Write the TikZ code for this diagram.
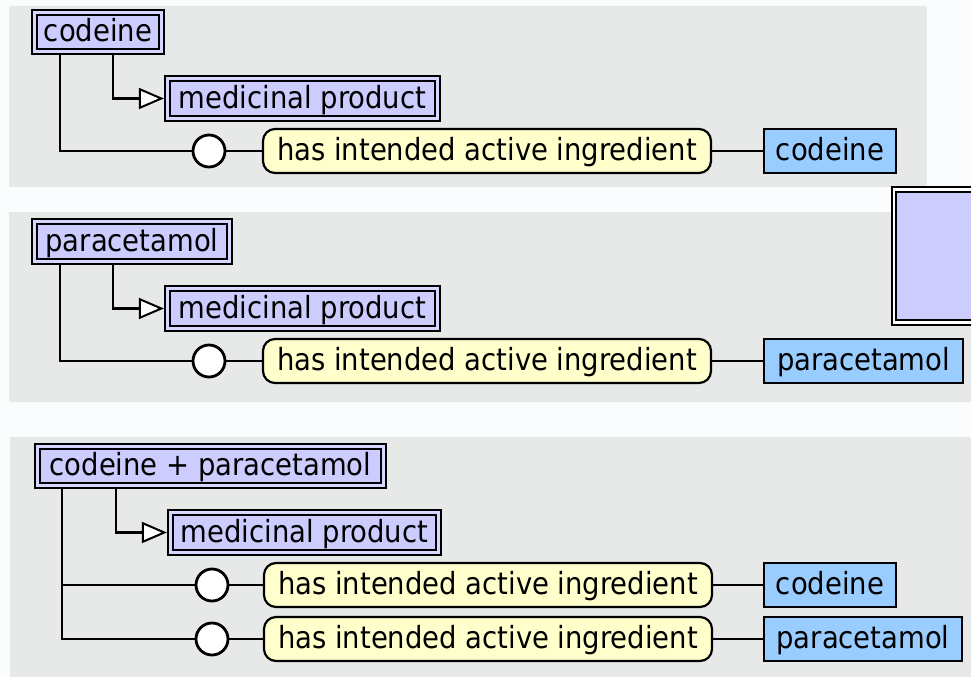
\documentclass[tikz,border=0pt]{standalone}
\usepackage{fontspec}
\setmainfont{DejaVu Sans Condensed}
\usetikzlibrary{arrows.meta}
\definecolor{lav}{HTML}{CCCCFF}
\definecolor{lavgap}{HTML}{D6D6FF}
\definecolor{pillc}{HTML}{FFFFCC}
\definecolor{bluec}{HTML}{99CCFF}
\definecolor{panelc}{HTML}{E6E9E8}
\definecolor{pagec}{HTML}{FAFCFE}
\tikzset{
  every node/.style={font=\fontsize{30.5}{33}\selectfont, text height=23pt, text depth=4pt, inner sep=0pt},
  concept/.style={rectangle, fill=lav, draw=black, line width=2.4pt, double=lavgap, double distance=2.4pt, outer sep=3.6pt, minimum height=39pt},
  prop/.style={rectangle, rounded corners=12pt, fill=pillc, draw=black, line width=2.2pt, minimum height=44pt, minimum width=448pt, outer sep=1.1pt},
  val/.style={rectangle, fill=bluec, draw=black, line width=2.2pt, minimum height=44pt, outer sep=1.1pt},
  ring/.style={circle, fill=white, draw=black, line width=2.8pt, minimum size=32pt, text height=0pt, text depth=0pt},
  conn/.style={draw=black, line width=2.8pt},
  thin/.style={draw=black, line width=2.2pt},
  isa/.style={conn, -{Triangle[length=25pt,width=21pt,fill=white,line width=2pt]}}
}
\begin{document}
\begin{tikzpicture}[x=1pt,y=-1pt]
\useasboundingbox (0,0) rectangle (971,677);
\clip (0,0) rectangle (971,677);
\fill[pagec] (0,0) rectangle (971,677);
% panels
\fill[panelc] (9,6) rectangle (927,187);
\fill[panelc] (9,212) rectangle (971,402);
\fill[panelc] (10,437) rectangle (971,677);
% big box at right
\node[rectangle, fill=lav, draw=black, line width=2.2pt, double=white, double distance=2.5pt, minimum width=140pt, minimum height=133pt] (bigbox) at (964,256) {};

% panel 1
\node[concept, minimum width=127pt] (cod1) at (98,32) {codeine};
\node[concept, minimum width=270pt, minimum height=40pt] (med1) at (302.5,98.5) {medicinal product};
\node[ring] (c1) at (209,151) {};
\node[prop] (p1) at (487,151) {has intended active ingredient};
\node[val, minimum width=132pt] (b1) at (830,151) {codeine};
\draw[isa] ([xshift=82pt]cod1.south west) |- (med1.west);
\draw[conn] ([xshift=29pt]cod1.south west) |- (c1.west);
\draw[thin] (c1) -- (p1);
\draw[thin] (p1) -- (b1);

% panel 2
\node[concept, minimum width=195pt, minimum height=40pt] (par2) at (132,241.5) {paracetamol};
\node[concept, minimum width=270pt, minimum height=40pt] (med2) at (302.5,308.5) {medicinal product};
\node[ring] (c2) at (209,361) {};
\node[prop] (p2) at (487,361) {has intended active ingredient};
\node[val, minimum width=199pt] (b2) at (863.5,361) {paracetamol};
\draw[isa] ([xshift=82pt]par2.south west) |- (med2.west);
\draw[conn] ([xshift=29pt]par2.south west) |- (c2.west);
\draw[thin] (c2) -- (p2);
\draw[thin] (p2) -- (b2);

% panel 3
\node[concept, minimum width=346pt] (cp3) at (210.5,466) {codeine + paracetamol};
\node[concept, minimum width=268pt, minimum height=40pt] (med3) at (304.5,532.5) {medicinal product};
\node[ring] (c3a) at (212,585) {};
\node[ring] (c3b) at (212,639) {};
\node[prop] (p3a) at (488,585) {has intended active ingredient};
\node[prop] (p3b) at (488,639) {has intended active ingredient};
\node[val, minimum width=132pt] (b3a) at (830,585) {codeine};
\node[val, minimum width=198pt] (b3b) at (863,639) {paracetamol};
\draw[isa] ([xshift=82pt]cp3.south west) |- (med3.west);
\draw[conn] ([xshift=28pt]cp3.south west) |- (c3b.west);
\draw[conn] ([xshift=28pt]cp3.south west |- c3a.west) -- (c3a.west);
\draw[thin] (c3a) -- (p3a);
\draw[thin] (p3a) -- (b3a);
\draw[thin] (c3b) -- (p3b);
\draw[thin] (p3b) -- (b3b);
\end{tikzpicture}
\end{document}
